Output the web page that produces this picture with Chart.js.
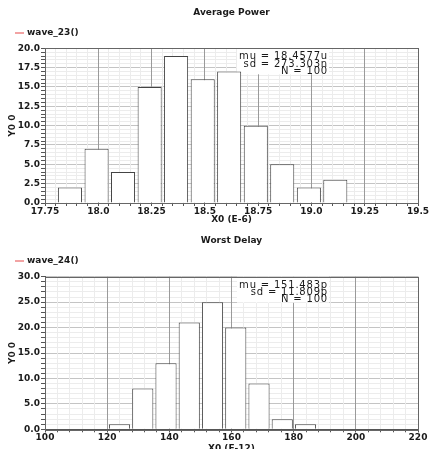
<!DOCTYPE html>
<html>
<head>
<meta charset="utf-8">
<script src="https://cdn.jsdelivr.net/npm/chart.js@4"></script>
<style>
  html, body { margin: 0; padding: 0; background: #fff; }
  body { width: 430px; height: 449px; overflow: hidden; position: relative; }
  canvas { position: absolute; left: 0; }
  #powerChart { top: 0; }
  #delayChart { top: 228px; }
</style>
</head>
<body>
<canvas id="powerChart" width="430" height="228"></canvas>
<canvas id="delayChart" width="430" height="228"></canvas>
<script>
// histogram bins (bin centres) and counts
var powerBins = [17.867, 17.992, 18.116, 18.241, 18.365, 18.490, 18.614, 18.739, 18.863, 18.988, 19.112];
var powerCounts = [2, 7, 4, 15, 19, 16, 17, 10, 5, 2, 3];
var powerStats = ['mu = 18.4577u', 'sd = 273.303n', 'N = 100'];

var delayBins = [123.97, 131.45, 138.93, 146.41, 153.89, 161.37, 168.85, 176.33, 183.81];
var delayCounts = [1, 8, 13, 21, 25, 20, 9, 2, 1];
var delayStats = ['mu = 151.483p', 'sd = 11.809p', 'N = 100'];

var FONT = '"DejaVu Sans", Verdana, sans-serif';
var TEXT = '#1a1a1a';

function isMajor(v, major) {
    var r = v / major;
    return Math.abs(r - Math.round(r)) < 1e-6;
}

// stats box under the bars, frame and the little legend line on top
var extras = {
    id: 'extras',
    beforeDatasetsDraw: function(chart, args, opts) {
        var ctx = chart.ctx, a = chart.chartArea;
        ctx.save();
        ctx.fillStyle = '#fff';
        ctx.fillRect(237, a.top, 92, 26);
        ctx.fillStyle = TEXT;
        ctx.font = '10px ' + FONT;
        ctx.letterSpacing = '0.8px';
        ctx.textAlign = 'right';
        ctx.textBaseline = 'middle';
        opts.stats.forEach(function(s, i) {
            ctx.fillText(s, 328, a.top + 8.5 + i * 7.2);
        });
        ctx.restore();
    },
    afterDatasetsDraw: function(chart, args, opts) {
        var ctx = chart.ctx, a = chart.chartArea;
        ctx.save();
        // frame
        ctx.strokeStyle = '#666';
        ctx.lineWidth = 1;
        ctx.strokeRect(Math.round(a.left) + 0.5, Math.round(a.top) + 0.5,
                       Math.round(a.right - a.left), Math.round(a.bottom - a.top));
        // legend
        ctx.strokeStyle = '#f2a3a3';
        ctx.lineWidth = 2;
        ctx.beginPath();
        ctx.moveTo(15, opts.legendY);
        ctx.lineTo(24, opts.legendY);
        ctx.stroke();
        ctx.fillStyle = TEXT;
        ctx.font = 'bold 9px ' + FONT;
        ctx.textAlign = 'left';
        ctx.textBaseline = 'middle';
        ctx.fillText(chart.data.datasets[0].label, 27, opts.legendY);
        ctx.restore();
    }
};

function makeChart(id, cfg) {
    var points = cfg.bins.map(function(b, i) { return { x: b, y: cfg.counts[i] }; });
    var tickFont = { family: FONT, size: 9, weight: 'bold' };
    return new Chart(document.getElementById(id), {
        type: 'bar',
        data: {
            datasets: [{
                label: cfg.label,
                data: points,
                xAxisID: 'x',
                backgroundColor: '#fff',
                borderColor: '#444',
                borderWidth: 1,
                barPercentage: 0.91,
                categoryPercentage: 1
            }]
        },
        plugins: [extras],
        options: {
            responsive: false,
            animation: false,
            devicePixelRatio: 1,
            layout: { padding: { left: 0, right: 12, top: 0, bottom: cfg.padBottom } },
            plugins: {
                legend: { display: false },
                tooltip: { enabled: false },
                title: {
                    display: true,
                    text: cfg.title,
                    fullSize: false,
                    color: TEXT,
                    font: tickFont,
                    padding: { top: 7, bottom: cfg.titleGap }
                },
                extras: { stats: cfg.stats, legendY: 33 }
            },
            scales: {
                // major x ticks, labels and bars
                x: {
                    type: 'linear',
                    offset: false,
                    weight: 1,
                    min: cfg.xMin,
                    max: cfg.xMax,
                    afterFit: function(s) { s.height = 25; },
                    grid: { offset: false, color: '#9a9a9a', tickColor: '#555', tickLength: 3, z: -1 },
                    border: { color: '#555' },
                    ticks: {
                        stepSize: cfg.xMajor,
                        autoSkip: false,
                        maxRotation: 0,
                        padding: 0,
                        color: TEXT,
                        font: tickFont,
                        callback: function(v) { return cfg.xFmt(v); }
                    },
                    title: {
                        display: true,
                        text: cfg.xTitle,
                        color: TEXT,
                        font: tickFont,
                        padding: { top: 0, bottom: cfg.xTitlePad }
                    }
                },
                // minor vertical grid only
                x2: {
                    type: 'linear',
                    position: 'bottom',
                    offset: false,
                    weight: 0,
                    min: cfg.xMin,
                    max: cfg.xMax,
                    afterFit: function(s) { s.height = 0; },
                    grid: {
                        offset: false,
                        tickLength: 3,
                        tickColor: '#555',
                        z: -1.5,
                        color: function(c) {
                            return c.tick && isMajor(c.tick.value, cfg.xMajor) ? 'rgba(0,0,0,0)' : '#ececec';
                        }
                    },
                    border: { display: false },
                    ticks: { display: false, stepSize: cfg.xStep, autoSkip: false }
                },
                y: {
                    min: 0,
                    max: cfg.yMax,
                    afterFit: function(s) { s.width = 45; },
                    grid: {
                        tickColor: '#555',
                        tickLength: 4,
                        z: -2,
                        color: function(c) {
                            return c.tick && isMajor(c.tick.value, cfg.yMajor) ? '#c4c4c4' : '#ececec';
                        }
                    },
                    border: { color: '#555' },
                    ticks: {
                        stepSize: cfg.yStep,
                        autoSkip: false,
                        padding: 1,
                        color: TEXT,
                        font: tickFont,
                        callback: function(v) { return isMajor(v, cfg.yMajor) ? v.toFixed(1) : ''; }
                    },
                    title: {
                        display: true,
                        text: 'Y0 0',
                        color: TEXT,
                        font: tickFont,
                        padding: { top: 7, bottom: 0 }
                    }
                }
            }
        }
    });
}

makeChart('powerChart', {
    label: 'wave_23()',
    title: 'Average Power',
    bins: powerBins,
    counts: powerCounts,
    stats: powerStats,
    xMin: 17.75, xMax: 19.5, xStep: 0.05, xMajor: 0.25,
    xFmt: function(v) { var s = String(Number(v.toFixed(2))); return s.indexOf('.') < 0 ? s + '.0' : s; },
    xTitle: 'X0 (E-6)',
    yMax: 20, yStep: 0.5, yMajor: 2.5,
    titleGap: 30.5, padBottom: 0, xTitlePad: 3
});

makeChart('delayChart', {
    label: 'wave_24()',
    title: 'Worst Delay',
    bins: delayBins,
    counts: delayCounts,
    stats: delayStats,
    xMin: 100, xMax: 220, xStep: 4, xMajor: 20,
    xFmt: function(v) { return String(Math.round(v)); },
    xTitle: 'X0 (E-12)',
    yMax: 30, yStep: 1, yMajor: 5,
    titleGap: 30.9, padBottom: 1.7, xTitlePad: 0.6
});
</script>
</body>
</html>
